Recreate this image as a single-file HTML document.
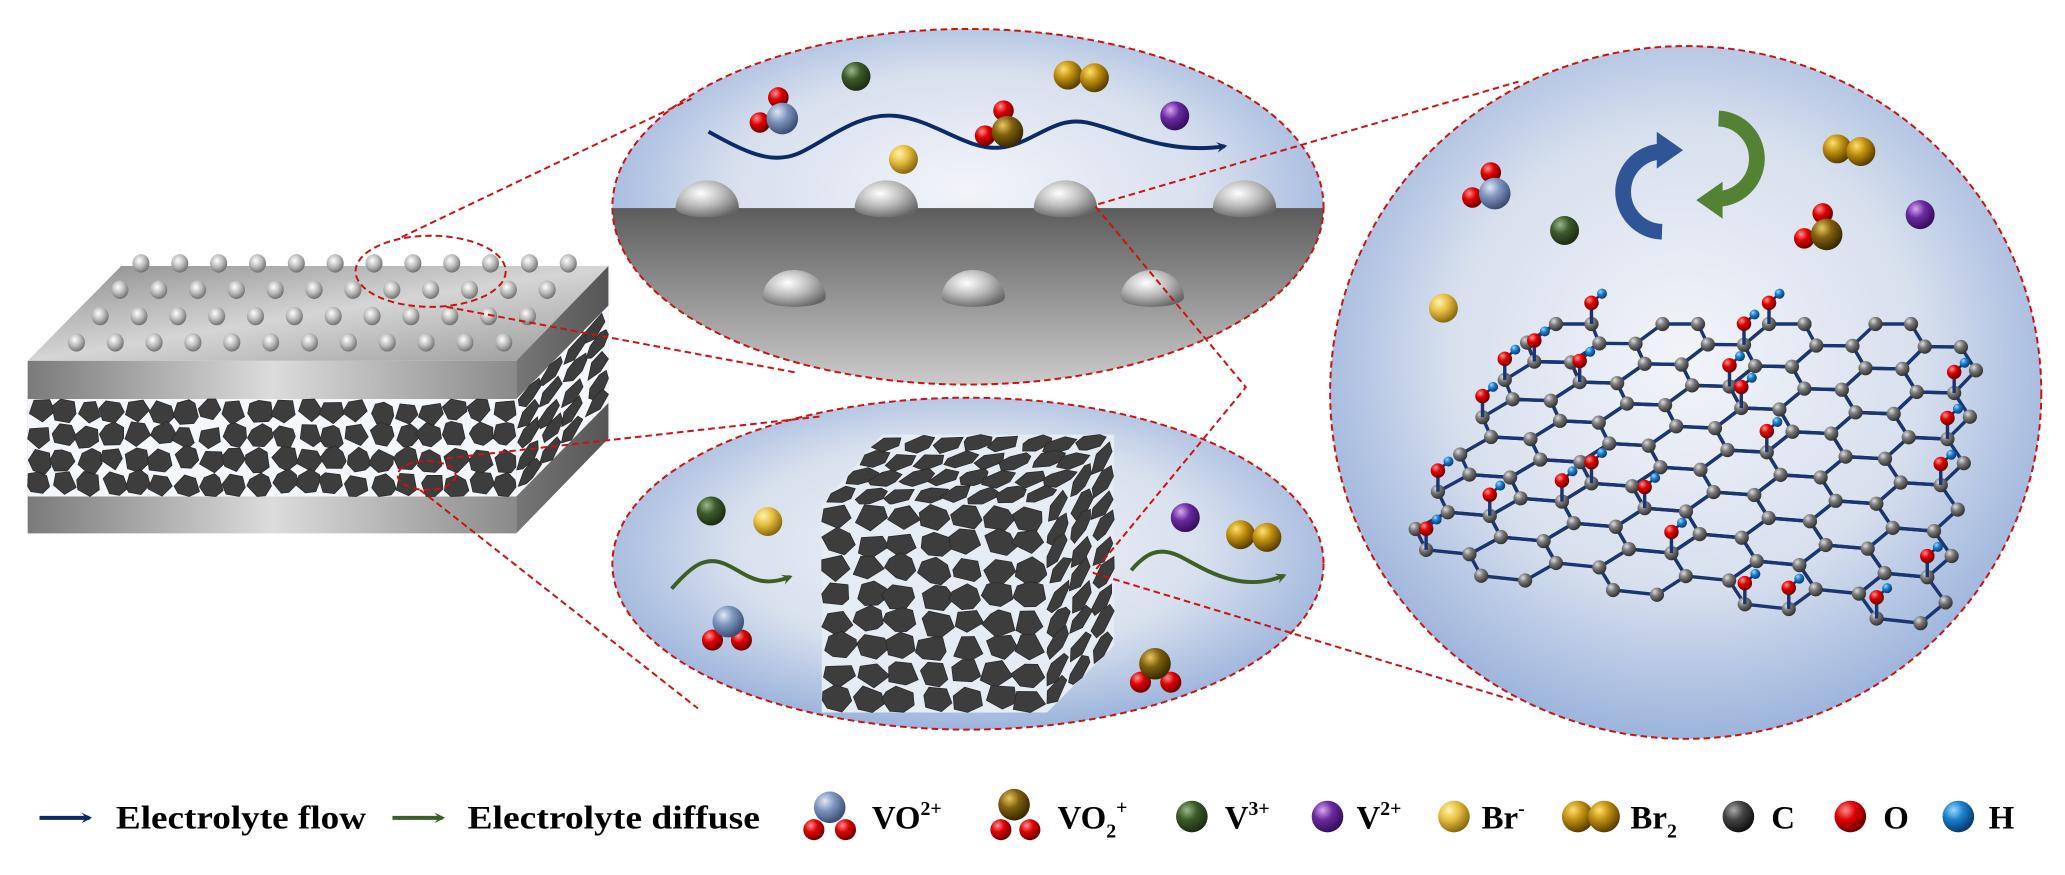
<!DOCTYPE html>
<html><head><meta charset="utf-8"><style>
html,body{margin:0;padding:0;background:#fff;}
svg{display:block;}
text{font-family:"Liberation Serif",serif;font-weight:bold;fill:#000;}
</style></head><body>
<svg id="s" width="2065" height="875" viewBox="0 0 1568 664.4" preserveAspectRatio="none" xmlns="http://www.w3.org/2000/svg">
<defs>
<radialGradient id="gBlue" cx="35%" cy="30%" r="70%"><stop offset="0" stop-color="#dfe8f5"/><stop offset=".45" stop-color="#7d95bd"/><stop offset="1" stop-color="#3c4f73"/></radialGradient>
<radialGradient id="gBrown" cx="35%" cy="30%" r="70%"><stop offset="0" stop-color="#e8c860"/><stop offset=".45" stop-color="#806010"/><stop offset="1" stop-color="#3a2a00"/></radialGradient>
<radialGradient id="gGreen" cx="35%" cy="30%" r="70%"><stop offset="0" stop-color="#9bb88a"/><stop offset=".45" stop-color="#3b5a2a"/><stop offset="1" stop-color="#1d2e14"/></radialGradient>
<radialGradient id="gPurple" cx="35%" cy="30%" r="70%"><stop offset="0" stop-color="#d9a8f0"/><stop offset=".45" stop-color="#6a2aa0"/><stop offset="1" stop-color="#35105a"/></radialGradient>
<radialGradient id="gYellow" cx="35%" cy="30%" r="70%"><stop offset="0" stop-color="#fff3b0"/><stop offset=".45" stop-color="#e8c040"/><stop offset="1" stop-color="#8a6a10"/></radialGradient>
<radialGradient id="gGold" cx="35%" cy="30%" r="70%"><stop offset="0" stop-color="#ffe070"/><stop offset=".45" stop-color="#c09010"/><stop offset="1" stop-color="#5a4000"/></radialGradient>
<radialGradient id="gDark" cx="35%" cy="30%" r="70%"><stop offset="0" stop-color="#aaa"/><stop offset=".45" stop-color="#444"/><stop offset="1" stop-color="#111"/></radialGradient>
<radialGradient id="gC" cx="35%" cy="30%" r="70%"><stop offset="0" stop-color="#ddd"/><stop offset=".45" stop-color="#777"/><stop offset="1" stop-color="#333"/></radialGradient>
<radialGradient id="gRed" cx="35%" cy="30%" r="70%"><stop offset="0" stop-color="#ff9090"/><stop offset=".45" stop-color="#e00000"/><stop offset="1" stop-color="#700000"/></radialGradient>
<radialGradient id="gH" cx="35%" cy="30%" r="70%"><stop offset="0" stop-color="#9fd8ff"/><stop offset=".45" stop-color="#1a80cc"/><stop offset="1" stop-color="#0a3a70"/></radialGradient>
<radialGradient id="gSilver" cx="40%" cy="35%" r="70%"><stop offset="0" stop-color="#fff"/><stop offset=".5" stop-color="#bbb"/><stop offset="1" stop-color="#666"/></radialGradient>
<radialGradient id="gBub" cx="50%" cy="45%" r="55%"><stop offset="0" stop-color="#f2f4f9"/><stop offset=".6" stop-color="#d8e0ee"/><stop offset="1" stop-color="#9cb4dc"/></radialGradient>
<linearGradient id="gFloor" x1="0" y1="0" x2="0" y2="1"><stop offset="0" stop-color="#5c5c5c"/><stop offset="1" stop-color="#d0d0d0"/></linearGradient>
<linearGradient id="gFront" x1="0" y1="0" x2="1" y2="0"><stop offset="0" stop-color="#7a7a7a"/><stop offset=".5" stop-color="#dcdcdc"/><stop offset="1" stop-color="#8a8a8a"/></linearGradient>
<linearGradient id="gTop" x1="0" y1="0" x2="1" y2="1"><stop offset="0" stop-color="#8d8d8d"/><stop offset=".5" stop-color="#d5d5d5"/><stop offset="1" stop-color="#999"/></linearGradient>
<linearGradient id="gSide" x1="0" y1="0" x2="1" y2="0"><stop offset="0" stop-color="#777"/><stop offset="1" stop-color="#555"/></linearGradient>
<clipPath id="cTop"><ellipse cx="735" cy="157" rx="270" ry="135"/></clipPath>
<marker id="mNavy" markerWidth="8" markerHeight="8" refX="6" refY="4" orient="auto" markerUnits="userSpaceOnUse"><path d="M0,0 L8,4 L0,8 L3,4z" fill="#0c2a66"/></marker>
<marker id="mGreen" markerWidth="8" markerHeight="8" refX="6" refY="4" orient="auto" markerUnits="userSpaceOnUse"><path d="M0,0 L8,4 L0,8 L3,4z" fill="#3d5e25"/></marker>
</defs>

<polygon points="92,202 462,202 392,274 21,274" fill="url(#gTop)"/>
<rect x="21" y="274" width="371" height="131" fill="url(#gFront)"/>
<polygon points="392,274 462,202 462,333 392,405" fill="url(#gSide)"/>
<g id="slabPor"></g>
<g id="bumps"></g>

<ellipse cx="735" cy="157" rx="270" ry="135" fill="url(#gBub)"/>
<rect x="460" y="158" width="550" height="140" fill="url(#gFloor)" clip-path="url(#cTop)"/>
<g id="hemi"></g>
<path d="M538,100 C565,115 585,125 605,117 S650,85 680,88 S735,115 760,112 S800,88 825,93 S885,118 930,111" fill="none" stroke="#0c2a66" stroke-width="3" marker-end="url(#mNavy)"/>
<ellipse cx="735" cy="157" rx="270" ry="135" fill="none" stroke="#cc1111" stroke-width="1.5" stroke-dasharray="5,3"/>

<ellipse cx="735" cy="428" rx="270" ry="126" fill="url(#gBub)"/>
<g id="cube"></g>
<path d="M510,447 C525,430 535,422 550,428 S575,448 600,438" fill="none" stroke="#3d5e25" stroke-width="3" marker-end="url(#mGreen)"/>
<path d="M859,433 C870,420 880,415 895,422 S940,452 975,437" fill="none" stroke="#3d5e25" stroke-width="3" marker-end="url(#mGreen)"/>
<ellipse cx="735" cy="428" rx="270" ry="126" fill="none" stroke="#cc1111" stroke-width="1.5" stroke-dasharray="5,3"/>

<ellipse cx="1280" cy="298" rx="270" ry="263" fill="url(#gBub)"/>
<g id="lattice"></g>
<path d="M1262,176 A22,22 0 1,1 1264,115" fill="none" stroke="#2f5597" stroke-width="12"/>
<polygon points="1258,100 1278,114 1258,128" fill="#2f5597"/>
<path d="M1305,90 A22,22 0 1,1 1302,151" fill="none" stroke="#548235" stroke-width="12"/>
<polygon points="1308,138 1288,152 1308,166" fill="#548235"/>
<ellipse cx="1280" cy="298" rx="270" ry="263" fill="none" stroke="#cc1111" stroke-width="1.5" stroke-dasharray="5,3"/>

<g id="mols"></g>

<g fill="none" stroke="#cc1111" stroke-width="1.5" stroke-dasharray="5,3">
<ellipse cx="327" cy="206" rx="57" ry="27"/>
<ellipse cx="324" cy="361" rx="22" ry="11"/>
<line x1="305" y1="180" x2="525" y2="75"/>
<line x1="339" y1="233" x2="605" y2="283"/>
<line x1="339" y1="348" x2="625" y2="316"/>
<line x1="319" y1="372" x2="530" y2="538"/>
<line x1="834" y1="155" x2="1153" y2="62"/>
<polyline points="832,157 946,294 830,435"/>
<line x1="830" y1="435" x2="1150" y2="532"/>
</g>

<line x1="30" y1="621" x2="68" y2="621" stroke="#0c2a66" stroke-width="3" marker-end="url(#mNavy)"/>
<text x="88" y="629" font-size="25" textLength="190" lengthAdjust="spacingAndGlyphs">Electrolyte flow</text>
<line x1="298" y1="621" x2="336" y2="621" stroke="#3d5e25" stroke-width="3" marker-end="url(#mGreen)"/>
<text x="355" y="629" font-size="25" textLength="222" lengthAdjust="spacingAndGlyphs">Electrolyte diffuse</text>
<text x="662" y="629" font-size="25">VO<tspan font-size="15" dy="-10">2+</tspan></text>
<text x="803" y="629" font-size="25">VO<tspan font-size="15" dy="7">2</tspan><tspan font-size="15" dy="-18">+</tspan></text>
<text x="930" y="629" font-size="25">V<tspan font-size="15" dy="-10">3+</tspan></text>
<text x="1030" y="629" font-size="25">V<tspan font-size="15" dy="-10">2+</tspan></text>
<text x="1125" y="629" font-size="25">Br<tspan font-size="15" dy="-10">-</tspan></text>
<text x="1238" y="629" font-size="25">Br<tspan font-size="15" dy="7">2</tspan></text>
<text x="1345" y="629" font-size="25">C</text>
<text x="1430" y="629" font-size="25">O</text>
<text x="1510" y="629" font-size="25">H</text>
<g id="leg"></g>
</svg>
<script>
var NS="http://www.w3.org/2000/svg";
function el(p,t,a){var e=document.createElementNS(NS,t);for(var k in a)e.setAttribute(k,a[k]);p.appendChild(e);return e;}
function $(id){return document.getElementById(id);}
var seed=7;function rnd(){seed=(seed*16807)%2147483647;return seed/2147483647;}
function ball(p,x,y,r,g){el(p,"circle",{cx:x,cy:y,r:r,fill:"url(#"+g+")"});}
function bil(c,u,v){return [(1-u)*(1-v)*c[0][0]+u*(1-v)*c[1][0]+(1-u)*v*c[3][0]+u*v*c[2][0],(1-u)*(1-v)*c[0][1]+u*(1-v)*c[1][1]+(1-u)*v*c[3][1]+u*v*c[2][1]];}
function porous(p,c,nx,ny,bg){
 el(p,"polygon",{points:c.map(function(q){return q.join(",")}).join(" "),fill:bg});
 for(var i=0;i<nx;i++)for(var j=0;j<ny;j++){
  var pts=[],n=5+Math.floor(rnd()*3);
  var cx=(i+0.5+(rnd()-.5)*.2)/nx,cy=(j+0.5+(rnd()-.5)*.2)/ny;
  for(var k=0;k<n;k++){var a=k/n*6.283+rnd()*.5,rr=0.44+rnd()*0.12;
   var u=Math.min(1,Math.max(0,cx+Math.cos(a)*rr/nx)),v=Math.min(1,Math.max(0,cy+Math.sin(a)*rr/ny));
   pts.push(bil(c,u,v).map(function(z){return z.toFixed(1)}).join(","));}
  el(p,"polygon",{points:pts.join(" "),fill:"#3d3d3d",stroke:"#2a2a2a","stroke-width":"0.6"});
 }}
var sp=$("slabPor");
porous(sp,[[21,303],[392,303],[392,377],[21,377]],20,4,"#f4f7fb");
porous(sp,[[392,303],[462,232],[462,306],[392,377]],4,5,"#f4f7fb");
var bm=$("bumps");
var rows=[[107,200],[91,220],[76,240],[58,260]];
rows.forEach(function(r){for(var i=0;i<12;i++){var x=r[0]+i*29.5;el(bm,"ellipse",{cx:x,cy:r[1],rx:6.5,ry:7,fill:"url(#gSilver)"});}});
var hm=$("hemi");
[[537,158],[673,158],[809,158],[945,158],[603,226],[739,226],[875,226]].forEach(function(h){
 el(hm,"path",{d:"M"+(h[0]-24)+","+h[1]+" A24,21 0 0,1 "+(h[0]+24)+","+h[1]+" A24,7 0 0,1 "+(h[0]-24)+","+h[1]+"z",fill:"url(#gSilver)"});});
var cb=$("cube");
porous(cb,[[670,330],[846,330],[795,383],[624,383]],8,4,"#e6ecf4");
porous(cb,[[624,383],[795,383],[795,541],[624,541]],7,8,"#e6ecf4");
porous(cb,[[795,383],[846,330],[846,490],[795,541]],3,9,"#e6ecf4");
var lt=$("lattice");
var C=[[1168,246],[1505,246],[1475,475],[1058,430]];
var atoms={},bonds=[];
function key(x,y){return Math.round(x*100)+"_"+Math.round(y*100);}
var NC=8,NR=6,W=1.5*NC+0.5,H=Math.sqrt(3)*(NR+0.5);
for(var i=0;i<NC;i++)for(var j=0;j<NR;j++){
 var cx=1+1.5*i,cy=Math.sqrt(3)*(j+0.5+(i%2?0.5:0));
 var vs=[];for(var k=0;k<6;k++){var a=k*Math.PI/3;vs.push([cx+Math.cos(a),cy+Math.sin(a)]);}
 for(var k=0;k<6;k++){var a1=vs[k],a2=vs[(k+1)%6];
  var p1=bil(C,a1[0]/W,a1[1]/H),p2=bil(C,a2[0]/W,a2[1]/H);
  atoms[key(a1[0],a1[1])]=p1;bonds.push([p1,p2]);}
}
bonds.forEach(function(b){el(lt,"line",{x1:b[0][0],y1:b[0][1],x2:b[1][0],y2:b[1][1],stroke:"#1a3570","stroke-width":"2.6"});});
var list=Object.keys(atoms).map(function(k){return atoms[k];});
list.sort(function(a,b){return a[1]-b[1];});
seed=11;
list.forEach(function(p){
 ball(lt,p[0],p[1],5.4,"gC");
 if(rnd()<0.2){
  el(lt,"line",{x1:p[0],y1:p[1],x2:p[0],y2:p[1]-16,stroke:"#1a3570","stroke-width":"2.6"});
  el(lt,"line",{x1:p[0],y1:p[1]-16,x2:p[0]+8,y2:p[1]-23,stroke:"#1a3570","stroke-width":"2"});
  ball(lt,p[0]+8,p[1]-23,3.8,"gH");
  ball(lt,p[0],p[1]-16,5.5,"gRed");
 }});
var m=$("mols");
function VO(p,x,y,g,r){ball(p,x-3,y-16,r*0.65,"gRed");ball(p,x-17,y+3,r*0.65,"gRed");ball(p,x,y,r,g);}
VO(m,594,90,"gBlue",12);ball(m,650,58,11,"gGreen");VO(m,765,100,"gBrown",12);
ball(m,811,57,11,"gGold");ball(m,831,59,11,"gGold");ball(m,892,88,11,"gPurple");ball(m,686,121,11,"gYellow");
ball(m,540,388,11,"gGreen");ball(m,583,396,11,"gYellow");
ball(m,541,486,8,"gRed");ball(m,563,486,8,"gRed");ball(m,553,472,12,"gBlue");
ball(m,900,393,11,"gPurple");ball(m,942,406,11,"gGold");ball(m,962,408,11,"gGold");
ball(m,866,518,8,"gRed");ball(m,889,518,8,"gRed");ball(m,877,504,12,"gBrown");
VO(m,1135,147,"gBlue",12);ball(m,1188,175,11,"gGreen");
ball(m,1395,113,11,"gGold");ball(m,1413,115,11,"gGold");
VO(m,1387,178,"gBrown",12);ball(m,1458,163,11,"gPurple");ball(m,1096,234,11,"gYellow");
var lg=$("leg");
ball(lg,618,630,8,"gRed");ball(lg,642,630,8,"gRed");ball(lg,630,613,12,"gBlue");
ball(lg,760,630,8,"gRed");ball(lg,782,630,8,"gRed");ball(lg,770,611,12,"gBrown");
ball(lg,905,620,12,"gGreen");ball(lg,1008,620,12,"gPurple");ball(lg,1104,620,12,"gYellow");
ball(lg,1198,620,12,"gGold");ball(lg,1218,620,12,"gGold");
ball(lg,1320,620,12,"gDark");ball(lg,1405,620,12,"gRed");ball(lg,1487,620,12,"gH");
</script>
</body></html>
